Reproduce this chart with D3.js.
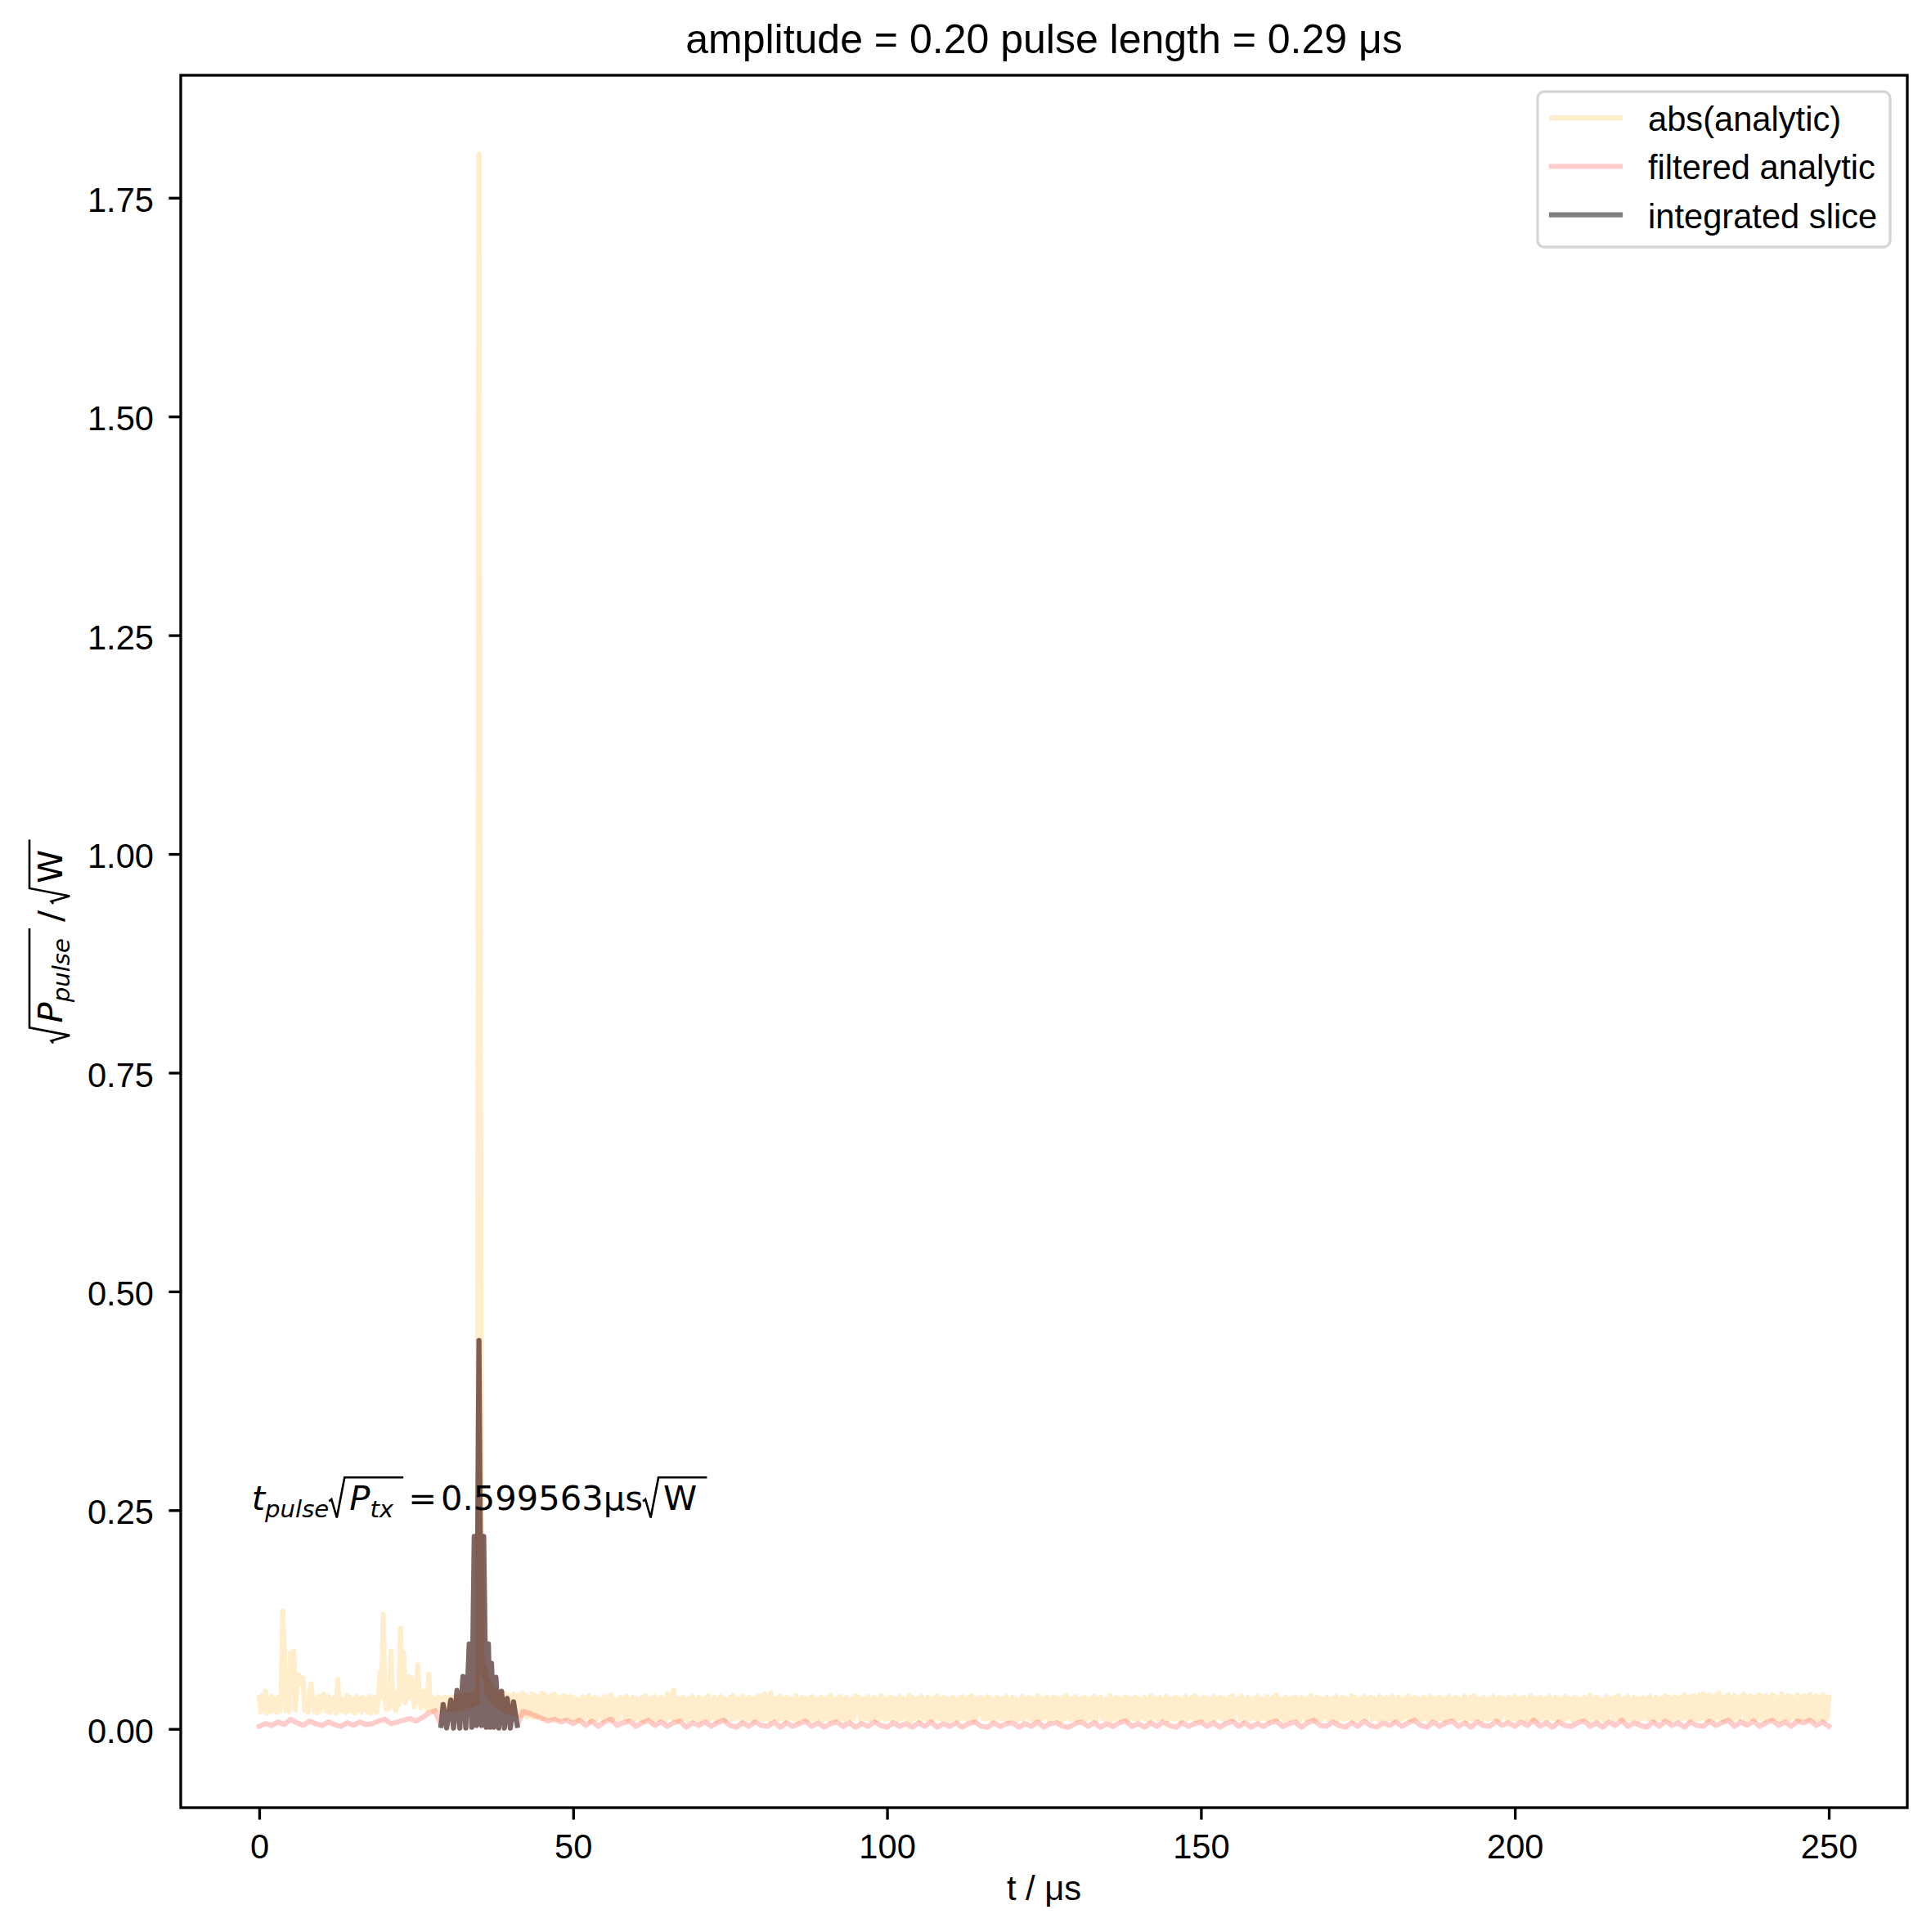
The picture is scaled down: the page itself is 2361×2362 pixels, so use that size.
<!DOCTYPE html>
<html><head><meta charset="utf-8">
<script src="https://cdn.jsdelivr.net/npm/d3@7"></script>
<style>
html,body{margin:0;padding:0;background:#fff;}
svg{display:block;}
</style></head>
<body>
<svg id="chart" width="2361" height="2362"></svg>
<script>
// ---------------- DATA ----------------
const titleText = "amplitude = 0.20 pulse length = 0.29 \u03bcs";
const xLabelText = "t / \u03bcs";
const xTicks = [0, 50, 100, 150, 200, 250];
const yTicks = [0.00, 0.25, 0.50, 0.75, 1.00, 1.25, 1.50, 1.75];
const legendLabels = ["abs(analytic)", "filtered analytic", "integrated slice"];

// abs(analytic): upper samples at t = 0, 0.5, 1.0 ... ; lower samples at t = 0.25, 0.75, ... (μs)
const absStep = 0.5;
const absLoOffset = 0.25;
const absHi = [
0.036,0.038,0.043,0.035,0.037,0.034,0.036,0.040,0.089,0.038,0.087,0.089,0.048,0.052,0.058,0.036,0.038,0.035,0.034,0.037,
0.036,0.035,0.037,0.034,0.036,0.057,0.035,0.033,0.038,0.036,0.034,0.037,0.035,0.036,0.034,0.037,0.035,0.036,0.038,0.036,
0.038,0.036,0.089,0.037,0.042,0.115,0.087,0.040,0.036,0.038,0.035,0.037,0.036,0.035,0.063,0.036,0.034,0.037,0.035,0.036,
0.035,0.036,0.037,0.036,0.038,0.037,0.039,0.038,0.040,0.042,1.800,0.080,0.070,0.055,0.050,0.045,0.042,0.040,0.041,0.039,
0.038,0.040,0.037,0.039,0.041,0.038,0.036,0.040,0.038,0.037,0.041,0.039,0.036,0.038,0.040,0.037,0.035,0.038,0.036,0.037,
0.036,0.034,0.033,0.037,0.035,0.038,0.034,0.036,0.035,0.033,0.037,0.035,0.039,0.034,0.033,0.036,0.035,0.037,0.034,0.036,
0.035,0.033,0.036,0.038,0.034,0.035,0.037,0.033,0.036,0.034,0.040,0.037,0.044,0.035,0.034,0.036,0.033,0.035,0.037,0.034,
0.036,0.034,0.035,0.038,0.033,0.036,0.034,0.037,0.035,0.033,0.036,0.038,0.034,0.035,0.037,0.033,0.036,0.034,0.035,0.038,
0.037,0.040,0.036,0.041,0.034,0.035,0.037,0.033,0.036,0.034,0.035,0.038,0.033,0.036,0.035,0.034,0.037,0.035,0.033,0.036,
0.034,0.036,0.038,0.033,0.035,0.037,0.034,0.036,0.033,0.035,0.038,0.036,0.034,0.035,0.037,0.033,0.036,0.034,0.038,0.035,
0.033,0.036,0.035,0.034,0.037,0.035,0.033,0.038,0.036,0.034,0.035,0.037,0.033,0.036,0.034,0.035,0.038,0.034,0.036,0.035,
0.034,0.036,0.033,0.035,0.037,0.034,0.036,0.038,0.033,0.035,0.036,0.034,0.037,0.035,0.033,0.036,0.034,0.035,0.037,0.034,
0.036,0.035,0.033,0.037,0.034,0.036,0.035,0.033,0.038,0.035,0.034,0.036,0.033,0.037,0.035,0.034,0.036,0.038,0.034,0.035,
0.037,0.034,0.035,0.036,0.033,0.035,0.037,0.034,0.036,0.033,0.035,0.038,0.034,0.036,0.035,0.033,0.037,0.035,0.034,0.036,
0.035,0.033,0.036,0.034,0.038,0.035,0.034,0.036,0.033,0.037,0.035,0.034,0.036,0.035,0.033,0.037,0.034,0.036,0.038,0.035,
0.034,0.036,0.035,0.033,0.037,0.034,0.036,0.035,0.033,0.036,0.038,0.034,0.035,0.037,0.033,0.036,0.034,0.035,0.037,0.034,
0.035,0.037,0.034,0.036,0.039,0.035,0.033,0.036,0.034,0.035,0.037,0.033,0.036,0.034,0.035,0.038,0.034,0.036,0.035,0.033,
0.036,0.034,0.035,0.037,0.033,0.036,0.035,0.034,0.038,0.036,0.033,0.035,0.037,0.034,0.036,0.035,0.033,0.037,0.034,0.036,
0.035,0.037,0.034,0.036,0.033,0.035,0.038,0.034,0.036,0.035,0.033,0.036,0.034,0.037,0.035,0.034,0.036,0.033,0.035,0.037,
0.034,0.036,0.035,0.033,0.037,0.034,0.036,0.038,0.035,0.034,0.036,0.033,0.035,0.037,0.034,0.036,0.035,0.033,0.036,0.035,
0.037,0.034,0.035,0.036,0.033,0.038,0.035,0.034,0.036,0.033,0.035,0.037,0.034,0.036,0.035,0.033,0.037,0.035,0.034,0.036,
0.035,0.033,0.036,0.034,0.038,0.035,0.036,0.034,0.033,0.037,0.035,0.034,0.036,0.038,0.034,0.035,0.037,0.033,0.036,0.035,
0.034,0.036,0.035,0.037,0.033,0.036,0.034,0.035,0.038,0.036,0.034,0.037,0.035,0.036,0.039,0.035,0.037,0.038,0.036,0.039,
0.040,0.037,0.039,0.036,0.038,0.041,0.035,0.037,0.039,0.036,0.038,0.035,0.037,0.040,0.036,0.038,0.035,0.037,0.039,0.036,
0.038,0.036,0.039,0.037,0.035,0.040,0.036,0.038,0.037,0.035,0.039,0.036,0.038,0.037,0.040,0.036,0.038,0.035,0.039,0.037,
0.036
];
const absLo = [
0.019,0.021,0.018,0.020,0.022,0.019,0.020,0.135,0.021,0.020,0.070,0.022,0.062,0.058,0.021,0.019,0.051,0.020,0.018,0.021,
0.040,0.020,0.019,0.021,0.018,0.022,0.020,0.019,0.021,0.020,0.018,0.021,0.019,0.022,0.020,0.018,0.021,0.019,0.065,0.131,
0.022,0.024,0.030,0.021,0.028,0.035,0.030,0.060,0.058,0.025,0.073,0.024,0.043,0.022,0.025,0.020,0.022,0.021,0.023,0.022,
0.022,0.023,0.022,0.024,0.023,0.025,0.026,0.027,0.028,0.030,0.700,0.060,0.040,0.035,0.030,0.028,0.025,0.022,0.020,0.019,
0.018,0.017,0.016,0.015,0.016,0.014,0.015,0.013,0.014,0.015,0.012,0.014,0.013,0.012,0.014,0.011,0.013,0.012,0.014,0.011,
0.012,0.010,0.013,0.011,0.014,0.009,0.012,0.011,0.015,0.010,0.013,0.012,0.010,0.014,0.011,0.019,0.012,0.010,0.013,0.011,
0.013,0.011,0.009,0.012,0.014,0.010,0.012,0.011,0.013,0.010,0.014,0.012,0.011,0.009,0.013,0.012,0.010,0.014,0.011,0.012,
0.010,0.013,0.012,0.011,0.014,0.009,0.012,0.013,0.010,0.018,0.011,0.012,0.014,0.010,0.013,0.011,0.012,0.009,0.013,0.012,
0.011,0.012,0.010,0.014,0.012,0.011,0.013,0.010,0.012,0.014,0.011,0.009,0.013,0.012,0.010,0.013,0.011,0.014,0.012,0.010,
0.013,0.010,0.012,0.011,0.014,0.012,0.010,0.013,0.011,0.012,0.019,0.010,0.013,0.012,0.011,0.014,0.010,0.012,0.013,0.011,
0.012,0.011,0.014,0.010,0.012,0.013,0.011,0.009,0.012,0.014,0.010,0.013,0.011,0.012,0.010,0.014,0.012,0.011,0.013,0.010,
0.011,0.013,0.010,0.012,0.014,0.011,0.012,0.010,0.013,0.018,0.012,0.011,0.013,0.010,0.012,0.014,0.011,0.013,0.010,0.012,
0.013,0.010,0.012,0.011,0.014,0.012,0.010,0.013,0.011,0.012,0.014,0.010,0.012,0.013,0.011,0.009,0.012,0.014,0.011,0.012,
0.010,0.012,0.013,0.011,0.014,0.012,0.010,0.019,0.012,0.011,0.013,0.010,0.012,0.014,0.011,0.012,0.010,0.013,0.012,0.011,
0.012,0.014,0.011,0.010,0.012,0.013,0.011,0.012,0.014,0.010,0.012,0.011,0.013,0.009,0.012,0.011,0.014,0.012,0.010,0.013,
0.011,0.012,0.010,0.013,0.011,0.014,0.012,0.010,0.013,0.012,0.011,0.018,0.012,0.010,0.013,0.011,0.014,0.012,0.011,0.013,
0.012,0.010,0.013,0.011,0.012,0.014,0.010,0.012,0.011,0.013,0.012,0.010,0.014,0.011,0.012,0.013,0.010,0.012,0.011,0.014,
0.011,0.013,0.012,0.010,0.014,0.011,0.012,0.013,0.010,0.012,0.011,0.014,0.012,0.019,0.011,0.013,0.010,0.012,0.013,0.011,
0.012,0.010,0.013,0.011,0.012,0.014,0.011,0.010,0.013,0.012,0.011,0.013,0.010,0.012,0.014,0.011,0.012,0.010,0.013,0.012,
0.013,0.011,0.012,0.014,0.010,0.012,0.011,0.013,0.012,0.010,0.014,0.011,0.012,0.013,0.010,0.012,0.018,0.011,0.013,0.012,
0.011,0.012,0.014,0.010,0.013,0.011,0.012,0.010,0.013,0.012,0.011,0.014,0.012,0.010,0.013,0.011,0.012,0.014,0.010,0.012,
0.013,0.011,0.012,0.010,0.014,0.012,0.011,0.013,0.010,0.012,0.019,0.011,0.013,0.012,0.010,0.014,0.011,0.012,0.013,0.010,
0.012,0.014,0.011,0.012,0.010,0.013,0.012,0.011,0.014,0.010,0.012,0.013,0.011,0.012,0.014,0.010,0.013,0.012,0.011,0.013,
0.012,0.010,0.013,0.011,0.014,0.012,0.010,0.013,0.012,0.011,0.014,0.012,0.018,0.010,0.013,0.012,0.011,0.014,0.012,0.010,
0.013,0.011,0.012,0.014,0.010,0.013,0.012,0.011,0.014,0.012,0.010,0.013,0.012,0.011,0.014,0.010,0.012,0.013,0.011,0.012
];

// filtered analytic: samples every 1 μs from t = 0 (null = inside the integrated slice window, where the slice samples are used)
const filtStep = 1.0;
const filtVals = [
0.003,0.006,0.004,0.008,0.005,0.011,0.007,0.004,0.009,0.006,
0.004,0.008,0.005,0.003,0.007,0.004,0.008,0.005,0.006,0.009,
0.011,0.006,0.008,0.010,0.012,0.009,0.013,0.018,0.021,
null,null,null,null,null,null,null,null,null,null,null,null,null,
0.020,0.018,0.015,0.012,0.009,0.011,0.008,0.010,
0.006,0.010,0.004,0.009,0.003,0.008,0.011,0.004,0.007,0.009,
0.003,0.007,0.010,0.004,0.008,0.003,0.007,0.009,0.002,0.007,
0.004,0.008,0.003,0.007,0.010,0.004,0.002,0.007,0.003,0.008,
0.004,0.003,0.008,0.002,0.007,0.003,0.006,0.009,0.003,0.007,
0.002,0.006,0.008,0.003,0.007,0.002,0.006,0.003,0.008,0.004,
0.002,0.007,0.003,0.006,0.002,0.007,0.003,0.008,0.002,0.006,
0.003,0.007,0.002,0.006,0.008,0.003,0.002,0.007,0.003,0.006,
0.007,0.002,0.006,0.003,0.008,0.002,0.006,0.007,0.003,0.002,
0.006,0.008,0.003,0.007,0.002,0.006,0.003,0.007,0.009,0.003,
0.006,0.002,0.007,0.003,0.008,0.004,0.002,0.007,0.003,0.006,
0.008,0.003,0.007,0.002,0.006,0.009,0.003,0.007,0.002,0.006,
0.003,0.007,0.009,0.003,0.006,0.008,0.002,0.007,0.010,0.004,
0.003,0.008,0.004,0.002,0.007,0.003,0.009,0.004,0.002,0.007,
0.004,0.008,0.003,0.007,0.010,0.004,0.002,0.008,0.003,0.007,
0.009,0.003,0.007,0.002,0.008,0.004,0.003,0.009,0.004,0.007,
0.003,0.008,0.004,0.010,0.003,0.007,0.002,0.008,0.004,0.003,
0.007,0.009,0.003,0.007,0.002,0.008,0.004,0.010,0.003,0.007,
0.004,0.002,0.008,0.003,0.009,0.004,0.007,0.002,0.008,0.004,
0.003,0.009,0.004,0.007,0.010,0.003,0.008,0.004,0.009,0.003,
0.007,0.010,0.004,0.008,0.003,0.009,0.007,0.010,0.004,0.008,
0.003
];

// integrated slice: (t in μs, value)
const sliceT = [28.95,29.3,29.85,30.5,30.95,31.5,31.95,32.45,32.9,33.45,33.85,34.25,34.6,35.0,35.4,35.75,36.15,36.5,36.75,37.0,37.35,37.7,38.15,38.6,39.05,39.5,40.0,40.5,41.1];
const sliceV = [0.004,0.028,0.001,0.033,0.001,0.044,0.001,0.060,0.001,0.097,0.002,0.220,0.004,0.444,0.004,0.220,0.002,0.097,0.002,0.075,0.002,0.059,0.001,0.043,0.001,0.035,0.001,0.031,0.004];

// annotation position (data units)
const annotX = -1.2, annotY = 0.25;

// ---------------- BUILD ----------------
const W = 2361, H = 2362;
const plot = {left: 221, right: 2332, top: 92, bottom: 2210};
const svg = d3.select('#chart');
svg.append('rect').attr('width', W).attr('height', H).attr('fill', '#fff');

const absSeries = [];
absHi.forEach((v, i) => {
  absSeries.push([i * absStep, v]);
  if (i < absLo.length) absSeries.push([i * absStep + absLoOffset, absLo[i]]);
});
const sliceSeries = sliceT.map((t, i) => [t, sliceV[i]]);
const filtSeries = [];
filtVals.forEach((v, i) => {
  const t = i * filtStep;
  if (v === null) return;
  if (t > sliceT[sliceT.length - 1] && filtSeries.length && filtSeries[filtSeries.length - 1][0] < sliceT[0] + 0.01) {
    sliceSeries.forEach(p => filtSeries.push(p));
  }
  filtSeries.push([t, v]);
});

const allPts = absSeries.concat(filtSeries, sliceSeries);
const xe = d3.extent(allPts, d => d[0]);
const ye = d3.extent(allPts, d => d[1]);
ye[0] = 0;
const xm = (xe[1] - xe[0]) * 0.05, ym = (ye[1] - ye[0]) * 0.05;
const x = d3.scaleLinear().domain([xe[0] - xm, xe[1] + xm]).range([plot.left, plot.right]);
const y = d3.scaleLinear().domain([ye[0] - ym, ye[1] + ym]).range([plot.bottom, plot.top]);

const LW = 6.25;
const defs = svg.append('defs');
defs.append('clipPath').attr('id', 'clipAx').append('rect')
  .attr('x', plot.left).attr('y', plot.top)
  .attr('width', plot.right - plot.left).attr('height', plot.bottom - plot.top);

const line = d3.line().x(d => x(d[0])).y(d => y(d[1]));
const gLines = svg.append('g').attr('clip-path', 'url(#clipAx)');
const styles = [
  {data: absSeries, color: 'orange', op: 0.2},
  {data: filtSeries, color: 'red', op: 0.2},
  {data: sliceSeries, color: 'black', op: 0.5}
];
styles.forEach(s => {
  gLines.append('path').attr('d', line(s.data))
    .attr('fill', 'none').attr('stroke', s.color).attr('stroke-opacity', s.op)
    .attr('stroke-width', LW).attr('stroke-linejoin', 'round').attr('stroke-linecap', 'square');
});

const FS = 41.67;
const SANS = "'Liberation Sans', Arial, Helvetica, sans-serif";
const MATH = "'DejaVu Sans', sans-serif";

// axes
const gx = svg.append('g').attr('transform', `translate(0,${plot.bottom})`)
  .call(d3.axisBottom(x).tickValues(xTicks).tickFormat(d3.format('d')).tickSize(14.6).tickPadding(17.4));
const gy = svg.append('g').attr('transform', `translate(${plot.left},0)`)
  .call(d3.axisLeft(y).tickValues(yTicks).tickFormat(d3.format('.2f')).tickSize(14.6).tickPadding(18.4));
[gx, gy].forEach(g => {
  g.select('.domain').remove();
  g.attr('font-family', SANS).attr('font-size', FS);
  g.selectAll('line').attr('stroke', '#000').attr('stroke-width', 3.33);
  g.selectAll('text').attr('fill', '#000');
});
gy.selectAll('text').attr('dy', '0.40em');

// spines
svg.append('rect').attr('x', plot.left).attr('y', plot.top)
  .attr('width', plot.right - plot.left).attr('height', plot.bottom - plot.top)
  .attr('fill', 'none').attr('stroke', '#000').attr('stroke-width', 3.33);

// title & x label
svg.append('text').attr('x', (plot.left + plot.right) / 2).attr('y', 65)
  .attr('text-anchor', 'middle').attr('font-family', SANS).attr('font-size', 50).attr('fill', '#000')
  .text(titleText);
svg.append('text').attr('x', (plot.left + plot.right) / 2).attr('y', 2323)
  .attr('text-anchor', 'middle').attr('font-family', SANS).attr('font-size', FS).attr('fill', '#000')
  .text(xLabelText);

// math layout helper
function mathLayout(g, pieces, size) {
  let cx = 0; const stack = [];
  pieces.forEach(p => {
    if (p.gap) { cx += p.gap; return; }
    if (p.rad === 'open') { stack.push(cx); cx += size * 0.6; return; }
    if (p.rad === 'close') {
      const x0 = stack.pop();
      const xe2 = cx + size * 0.29;
      g.append('path')
        .attr('d', `M${x0},${-size*0.26} L${x0+3},${-size*0.32} L${x0+9.5},${size*0.22} L${x0+19},${-size*0.96} L${xe2},${-size*0.96}`)
        .attr('fill', 'none').attr('stroke', '#000').attr('stroke-width', 2.6).attr('stroke-linejoin', 'miter');
      cx = xe2;
      return;
    }
    const fs = p.sub ? size * 0.7 : size;
    const t = g.append('text').attr('x', cx).attr('y', p.sub ? size * 0.22 : 0)
      .attr('font-family', MATH).attr('font-size', fs)
      .attr('font-style', p.it ? 'italic' : 'normal').attr('fill', '#000')
      .style('white-space', 'pre').text(p.text);
    cx += t.node().getComputedTextLength();
  });
  return cx;
}

// annotation
const gA = svg.append('g').attr('transform', `translate(${x(annotX)},${y(annotY)})`);
mathLayout(gA, [
  {text: 't', it: true}, {text: 'pulse', it: true, sub: true},
  {rad: 'open'}, {text: 'P', it: true}, {text: 'tx', it: true, sub: true}, {rad: 'close'},
  {gap: 6}, {text: '='}, {gap: 5}, {text: '0.599563\u03bcs'},
  {rad: 'open'}, {text: 'W'}, {rad: 'close'}
], FS);

// y label
const gYL = svg.append('g');
const yl = gYL.append('g');
const L = mathLayout(yl, [
  {rad: 'open'}, {text: 'P', it: true}, {text: 'pulse', it: true, sub: true}, {rad: 'close'},
  {gap: 8}, {text: '/'}, {gap: 8},
  {rad: 'open'}, {text: 'W'}, {rad: 'close'}
], FS);
gYL.attr('transform', `translate(76,${(plot.top + plot.bottom) / 2 + L / 2}) rotate(-90)`);

// legend
const lg = svg.append('g');
lg.append('rect').attr('x', 1880).attr('y', 112).attr('width', 431).attr('height', 190)
  .attr('rx', 8).attr('ry', 8).attr('fill', '#fff').attr('fill-opacity', 0.8)
  .attr('stroke', '#d6d6d6').attr('stroke-width', 3.33);
legendLabels.forEach((lab, i) => {
  const ry = 144 + i * 59.3;
  lg.append('line').attr('x1', 1897).attr('x2', 1981).attr('y1', ry).attr('y2', ry)
    .attr('stroke', styles[i].color).attr('stroke-opacity', styles[i].op)
    .attr('stroke-width', LW).attr('stroke-linecap', 'square');
  lg.append('text').attr('x', 2015).attr('y', ry + 16)
    .attr('font-family', SANS).attr('font-size', FS).attr('fill', '#000').text(lab);
});
</script>
</body></html>
